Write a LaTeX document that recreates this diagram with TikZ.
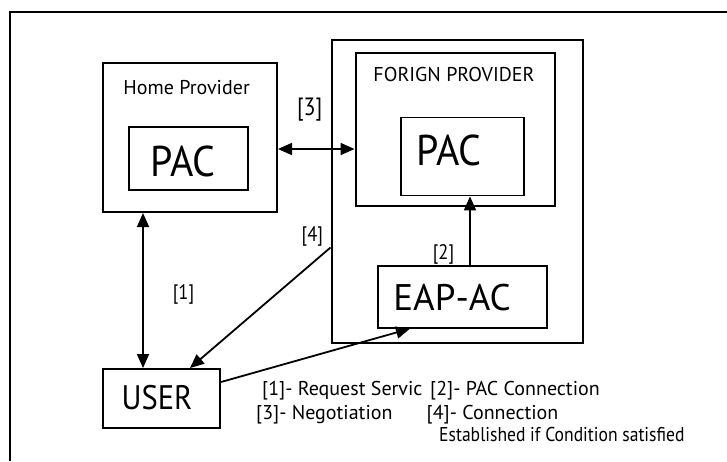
\documentclass[tikz,border=0pt]{standalone}
\usepackage{fontspec}
\setmainfont{PT Sans}
\newfontfamily\pacfont{PT Sans}[FakeStretch=0.93]
\newfontfamily\userfont{PT Sans}[FakeStretch=0.9]
\newfontfamily\narrowfont{PT Sans}[FakeStretch=0.88]
\usetikzlibrary{arrows.meta}
\tikzset{
  box/.style={draw, line width=2pt, rectangle, inner sep=0pt},
  thinbox/.style={draw, line width=1.3pt, rectangle, inner sep=0pt},
  tip/.tip={Triangle[length=14pt,width=12pt]},
  link/.style={line width=1.8pt, -tip},
  duplex/.style={line width=1.8pt, tip-tip},
  txt/.style={inner sep=0pt, anchor=base},
  bigtxt/.style={txt, font=\pacfont\fontsize{43}{43}\selectfont},
  midtxt/.style={txt, font=\fontsize{37}{37}\selectfont},
  usertxt/.style={txt, font=\userfont\fontsize{34}{34}\selectfont},
  headtxt/.style={txt, font=\fontsize{20}{20}\selectfont},
  tag/.style={txt, font=\narrowfont\fontsize{21}{21}\selectfont},
  bigtag/.style={txt, font=\narrowfont\fontsize{25}{25}\selectfont},
  legend/.style={inner sep=0pt, anchor=base west, font=\fontsize{20}{20}\selectfont},
  narrowlegend/.style={legend, font=\narrowfont\fontsize{20}{20}\selectfont},
}
\begin{document}
\begin{tikzpicture}[x=1pt,y=-1pt]
\useasboundingbox (0,0) rectangle (727,461);
% frame
\draw[line width=2.2pt] (10,461) -- (10,12) -- (727,12);

% home side
\node[box, minimum width=174pt, minimum height=149pt] (home) at (190,137.5) {};
\node[headtxt] (hometitle) at (186.6,94.3) {Home Provider};
\node[box, minimum width=119pt, minimum height=63.3pt] (hpac) at (188,158.3) {};
\node[bigtxt] (hpactxt) at (183,176.7) {PAC};

% foreign side
\node[box, minimum width=251pt, minimum height=303pt] (fouter) at (457,191.7) {};
\node[box, minimum width=199pt, minimum height=153pt] (fprov) at (455,129) {};
\node[headtxt] (ftitle) at (454,81.7) {FORIGN PROVIDER};
\node[thinbox, minimum width=123pt, minimum height=78.5pt] (fpac) at (462.5,156.5) {};
\node[bigtxt] (fpactxt) at (449,165) {PAC};
\node[box, minimum width=169pt, minimum height=61.7pt] (eap) at (462.4,296.8) {};
\node[midtxt] (eaptxt) at (452,310.7) {EAP-AC};

% user
\node[box, minimum width=116.7pt, minimum height=59.3pt] (user) at (161.7,398.7) {};
\node[usertxt] (usertxt) at (157,409.5) {USER};

% connectors
\coordinate (c4) at (fouter.west |- 0,247.5);
\draw[duplex] (home.south -| 143,0) -- (user.north -| 143,0);
\draw[duplex] (home.east |- 0,149) -- (fprov.west |- 0,149);
\draw[link] (eap.north -| 470,0) -- (fpac.south -| 470,0);
\draw[link] (c4) -- (user.north -| 190,0);
\draw[link] (user.east |- 0,382) -- (eap.south -| 410,0);

% step tags
\node[bigtag] (t3) at (309.7,115.5) {[3]};
\node[tag] (t1) at (183.5,299.5) {[1]};
\node[tag] (t4) at (312.3,241) {[4]};
\node[tag] (t2) at (443.5,259) {[2]};

% key
\node[legend] (k1) at (262,395) {[1]- Request Servic};
\node[legend] (k2) at (430,395) {[2]- PAC Connection};
\node[legend] (k3) at (256,419) {[3]- Negotiation};
\node[legend] (k4) at (426.5,419) {[4]- Connection};
\node[narrowlegend] (k5) at (439,441) {Established if Condition satisfied};
\end{tikzpicture}
\end{document}
